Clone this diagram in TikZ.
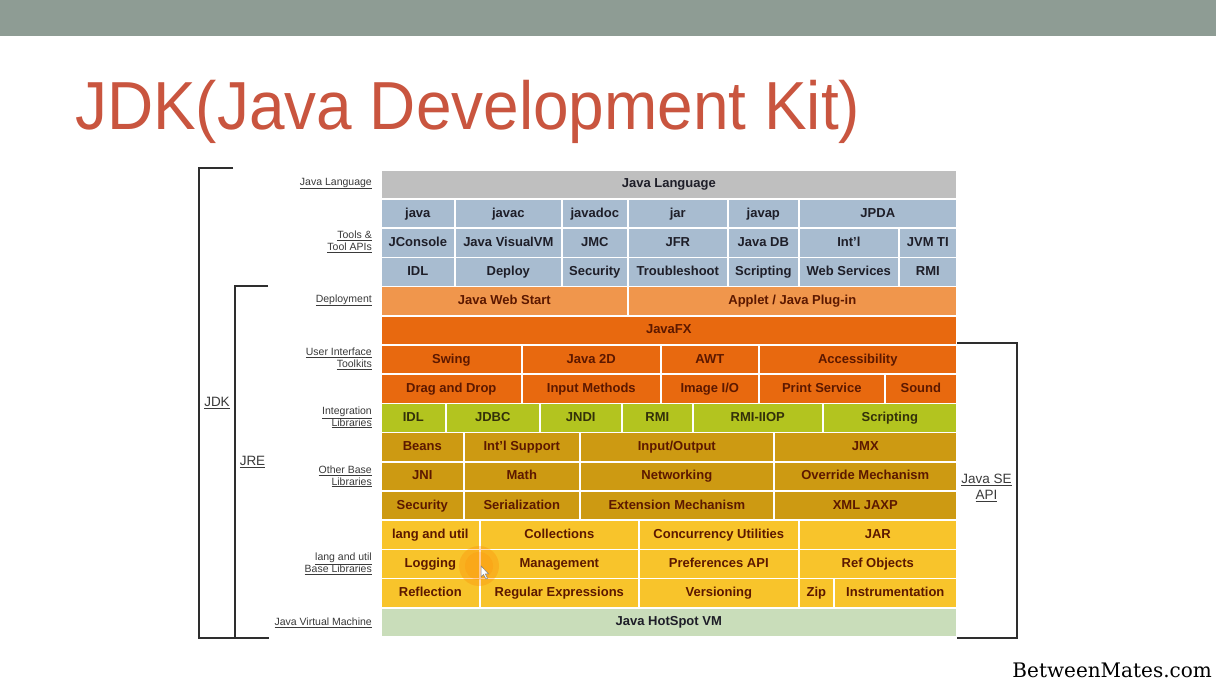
\documentclass[tikz,border=0pt]{standalone}
\usepackage{fontspec}
\setmainfont{Liberation Sans}
\newfontfamily\serifwm{DejaVu Serif}
\definecolor{band}{HTML}{8E9C94}
\definecolor{titlered}{HTML}{C9553F}
\definecolor{cgray}{HTML}{BFBFBF}
\definecolor{cblue}{HTML}{A8BCD0}
\definecolor{corangel}{HTML}{F0964C}
\definecolor{corange}{HTML}{E8690F}
\definecolor{cgreen}{HTML}{B3C41F}
\definecolor{cgold}{HTML}{CD9A12}
\definecolor{cyellow}{HTML}{F8C42B}
\definecolor{cjvm}{HTML}{C9DDBA}
\definecolor{tdark}{HTML}{1E1E28}
\definecolor{tbrown}{HTML}{5C1800}
\definecolor{tolive}{HTML}{33300A}
\definecolor{lblgray}{HTML}{3A3A3A}
\definecolor{brk}{HTML}{2E2E2E}
\tikzset{
  cellbase/.style={draw=white, line width=1.6pt, inner sep=0pt, minimum height=29.2pt,
    text height=9.6pt, text depth=2.6pt,
    font=\fontsize{13}{15}\selectfont\bfseries},
  sgray/.style={fill=cgray, text=tdark},
  sblue/.style={fill=cblue, text=tdark},
  sdeploy/.style={fill=corangel, text=tbrown},
  sorange/.style={fill=corange, text=tbrown},
  sgreen/.style={fill=cgreen, text=tolive},
  sgold/.style={fill=cgold, text=tbrown},
  syellow/.style={fill=cyellow, text=tbrown},
  sjvm/.style={fill=cjvm, text=tdark},
  lbl/.style={anchor=east, align=right, text=lblgray, inner sep=0pt,
    font=\fontsize{10.5}{11.8}\selectfont},
  biglbl/.style={align=center, text=lblgray, inner sep=0pt,
    font=\fontsize{13.5}{15.5}\selectfont},
  bracket/.style={draw=brk, line width=2pt},
}
\newcommand{\cellbox}[6]{%
  \pgfmathsetmacro{\cellw}{#3-#2}%
  \pgfmathsetmacro{\celly}{169+29.2*#4}%
  \node[cellbase,#5,minimum width=\cellw pt,anchor=north west] (#1) at (#2,\celly) {#6};%
}
\begin{document}
\begin{tikzpicture}[x=1pt,y=-1pt]
\useasboundingbox (0,0) rectangle (1216,684);
\fill[white] (0,0) rectangle (1216,684);
\fill[band] (0,0) rectangle (1216,36);

\node[anchor=base west, text=titlered, font=\fontsize{68}{70}\selectfont, xscale=0.94, inner sep=0pt] (title) at (75,130) {JDK(Java Development Kit)};

% row 0
\cellbox{jlang}{380}{956}{0}{sgray}{Java Language}
% tools rows
\cellbox{t1a}{380}{454}{1}{sblue}{java}
\cellbox{t1b}{454}{561}{1}{sblue}{javac}
\cellbox{t1c}{561}{627}{1}{sblue}{javadoc}
\cellbox{t1d}{627}{727}{1}{sblue}{jar}
\cellbox{t1e}{727}{798}{1}{sblue}{javap}
\cellbox{t1f}{798}{956}{1}{sblue}{JPDA}
\cellbox{t2a}{380}{454}{2}{sblue}{JConsole}
\cellbox{t2b}{454}{561}{2}{sblue}{Java VisualVM}
\cellbox{t2c}{561}{627}{2}{sblue}{JMC}
\cellbox{t2d}{627}{727}{2}{sblue}{JFR}
\cellbox{t2e}{727}{798}{2}{sblue}{Java DB}
\cellbox{t2f}{798}{898}{2}{sblue}{Int'l}
\cellbox{t2g}{898}{956}{2}{sblue}{JVM TI}
\cellbox{t3a}{380}{454}{3}{sblue}{IDL}
\cellbox{t3b}{454}{561}{3}{sblue}{Deploy}
\cellbox{t3c}{561}{627}{3}{sblue}{Security}
\cellbox{t3d}{627}{727}{3}{sblue}{Troubleshoot}
\cellbox{t3e}{727}{798}{3}{sblue}{Scripting}
\cellbox{t3f}{798}{898}{3}{sblue}{Web Services}
\cellbox{t3g}{898}{956}{3}{sblue}{RMI}
% deployment
\cellbox{d1}{380}{627}{4}{sdeploy}{Java Web Start}
\cellbox{d2}{627}{956}{4}{sdeploy}{Applet / Java Plug-in}
% UI
\cellbox{fx}{380}{956}{5}{sorange}{JavaFX}
\cellbox{u1a}{380}{521}{6}{sorange}{Swing}
\cellbox{u1b}{521}{660}{6}{sorange}{Java 2D}
\cellbox{u1c}{660}{758}{6}{sorange}{AWT}
\cellbox{u1d}{758}{956}{6}{sorange}{Accessibility}
\cellbox{u2a}{380}{521}{7}{sorange}{Drag and Drop}
\cellbox{u2b}{521}{660}{7}{sorange}{Input Methods}
\cellbox{u2c}{660}{758}{7}{sorange}{Image I/O}
\cellbox{u2d}{758}{884}{7}{sorange}{Print Service}
\cellbox{u2e}{884}{956}{7}{sorange}{Sound}
% integration
\cellbox{i1}{380}{445}{8}{sgreen}{IDL}
\cellbox{i2}{445}{539}{8}{sgreen}{JDBC}
\cellbox{i3}{539}{621}{8}{sgreen}{JNDI}
\cellbox{i4}{621}{692}{8}{sgreen}{RMI}
\cellbox{i5}{692}{822}{8}{sgreen}{RMI-IIOP}
\cellbox{i6}{822}{956}{8}{sgreen}{Scripting}
% other base
\cellbox{o1a}{380}{463}{9}{sgold}{Beans}
\cellbox{o1b}{463}{579}{9}{sgold}{Int'l Support}
\cellbox{o1c}{579}{773}{9}{sgold}{Input/Output}
\cellbox{o1d}{773}{956}{9}{sgold}{JMX}
\cellbox{o2a}{380}{463}{10}{sgold}{JNI}
\cellbox{o2b}{463}{579}{10}{sgold}{Math}
\cellbox{o2c}{579}{773}{10}{sgold}{Networking}
\cellbox{o2d}{773}{956}{10}{sgold}{Override Mechanism}
\cellbox{o3a}{380}{463}{11}{sgold}{Security}
\cellbox{o3b}{463}{579}{11}{sgold}{Serialization}
\cellbox{o3c}{579}{773}{11}{sgold}{Extension Mechanism}
\cellbox{o3d}{773}{956}{11}{sgold}{XML JAXP}
% lang and util
\cellbox{l1a}{380}{479}{12}{syellow}{lang and util}
\cellbox{l1b}{479}{638}{12}{syellow}{Collections}
\cellbox{l1c}{638}{798}{12}{syellow}{Concurrency Utilities}
\cellbox{l1d}{798}{956}{12}{syellow}{JAR}
\cellbox{l2a}{380}{479}{13}{syellow}{Logging}
\cellbox{l2b}{479}{638}{13}{syellow}{Management}
\cellbox{l2c}{638}{798}{13}{syellow}{Preferences API}
\cellbox{l2d}{798}{956}{13}{syellow}{Ref Objects}
\cellbox{l3a}{380}{479}{14}{syellow}{Reflection}
\cellbox{l3b}{479}{638}{14}{syellow}{Regular Expressions}
\cellbox{l3c}{638}{798}{14}{syellow}{Versioning}
\cellbox{l3d}{798}{833}{14}{syellow}{Zip}
\cellbox{l3e}{833}{956}{14}{syellow}{Instrumentation}
% jvm
\cellbox{jvm}{380}{956}{15}{sjvm}{Java HotSpot VM}

% cursor highlight
\fill[orange, opacity=0.28] (479,566) circle (20);
\fill[orange, opacity=0.18] (479,566) circle (14);
\draw[gray, fill=white, line width=0.5pt] (481,566) -- (481,577) -- (483.5,574.5) -- (486,579) -- (487.5,578.3) -- (485.2,573.8) -- (488.5,573.8) -- cycle;

% left labels
\node[lbl] (lb0) at (372,183.6) {\underline{Java Language}};
\node[lbl] (lb1) at (372,242) {\underline{Tools \&}\\\underline{Tool APIs}};
\node[lbl] (lb2) at (372,300.4) {\underline{Deployment}};
\node[lbl] (lb3) at (372,359) {\underline{User Interface}\\\underline{Toolkits}};
\node[lbl] (lb4) at (372,417.5) {\underline{Integration}\\\underline{Libraries}};
\node[lbl] (lb5) at (372,476.5) {\underline{Other Base}\\\underline{Libraries}};
\node[lbl] (lb6) at (372,564) {\underline{lang and util}\\\underline{Base Libraries}};
\node[lbl] (lb7) at (372,622.5) {\underline{Java Virtual Machine}};

% brackets
\draw[bracket] (233,168.5) -- (198.5,168.5) -- (198.5,637.5) -- (269,637.5);
\draw[bracket] (268,286) -- (234.5,286) -- (234.5,637.5);
\draw[bracket] (957,343.5) -- (1016.5,343.5) -- (1016.5,637.5) -- (957,637.5);

\node[biglbl] (jdk) at (217,403) {\underline{JDK}};
\node[biglbl] (jre) at (252.5,462) {\underline{JRE}};
\node[biglbl] (seapi) at (986.5,488) {\underline{Java SE}\\\underline{API}};

\node[anchor=base east, inner sep=0pt, font=\serifwm\fontsize{20}{22}\selectfont] (wm) at (1212,677) {BetweenMates.com};
\end{tikzpicture}
\end{document}
